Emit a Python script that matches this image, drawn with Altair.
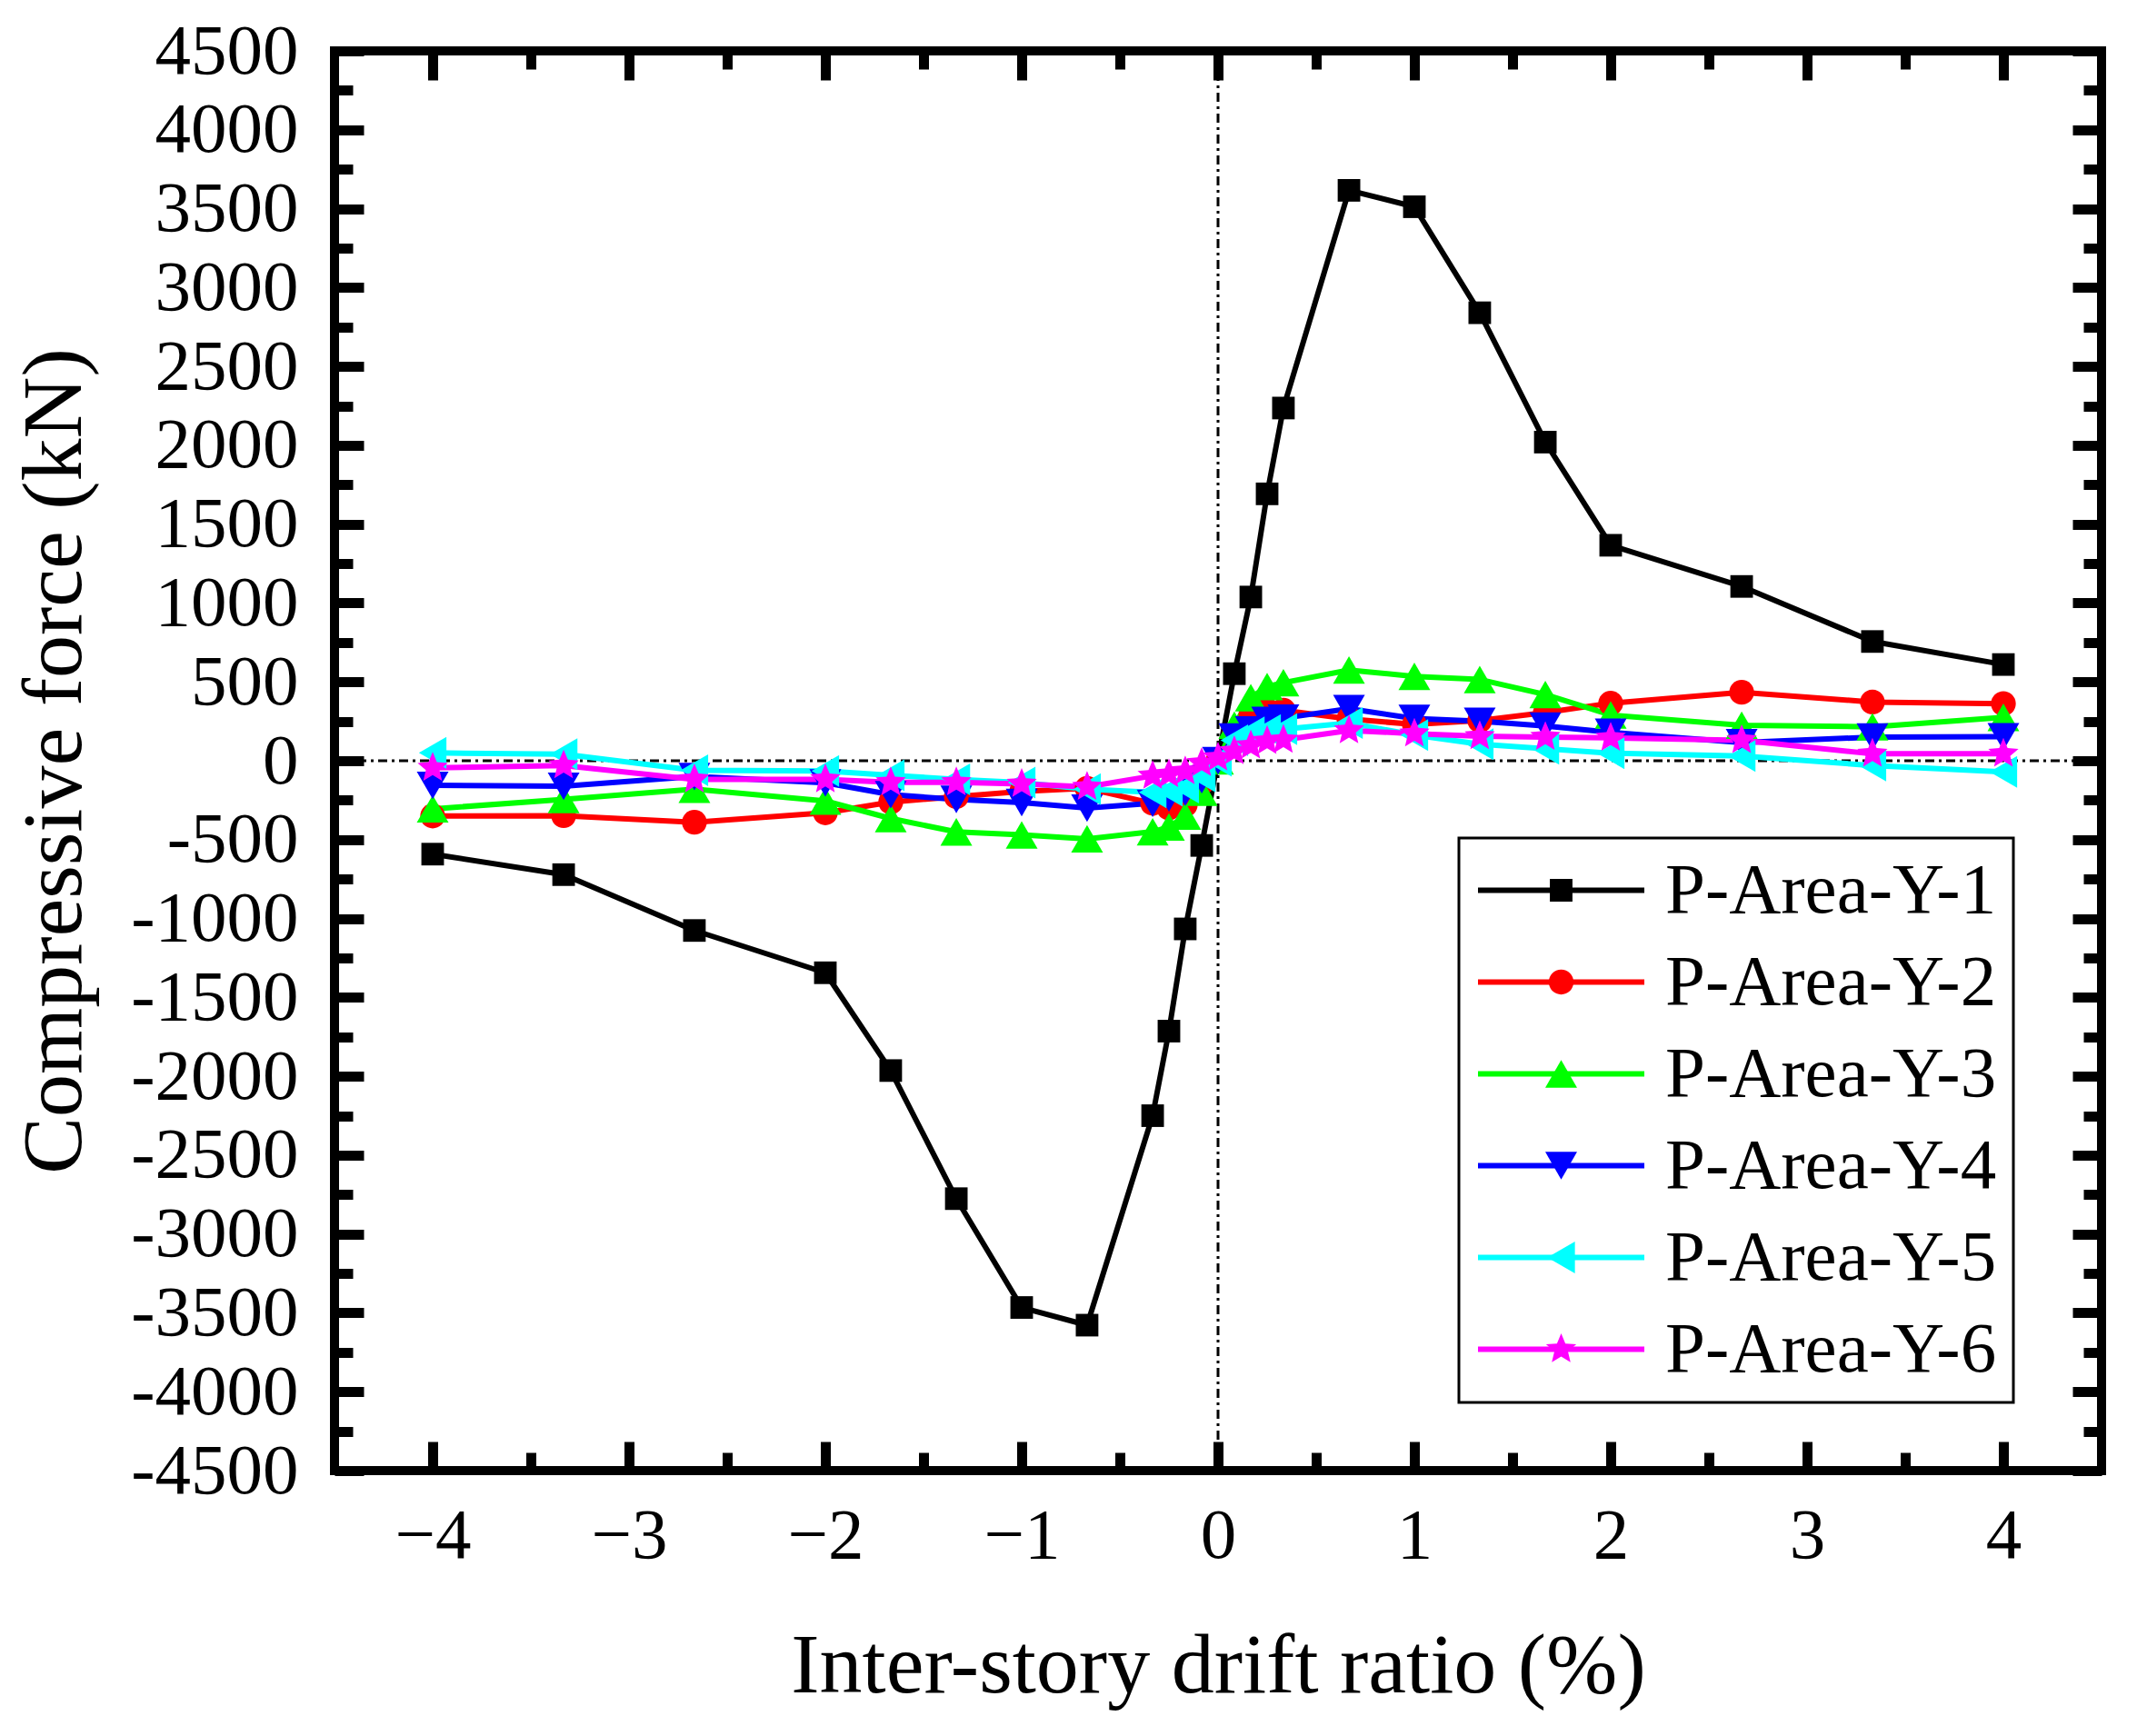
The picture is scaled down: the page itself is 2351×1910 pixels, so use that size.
import pandas as pd
import altair as alt

# drift ratio (%) at each load step
drift = [-4, -3.333, -2.667, -2, -1.667, -1.333, -1, -0.667, -0.333, -0.25, -0.167, -0.083, 0,
         0.083, 0.167, 0.25, 0.333, 0.667, 1, 1.333, 1.667, 2, 2.667, 3.333, 4]

# compressive force (kN)
y1 = [-592, -722, -1076, -1344, -1964, -2776, -3466, -3578, -2250, -1714, -1066, -537, None,
      552, 1038, 1692, 2236, 3616, 3512, 2840, 2020, 1366, 1105, 756, 610]
y2 = [-350, -348, -390, -330, -262, -228, -195, -175, -270, -300, -280, -140, 0,
      170, 290, 320, 320, 265, 230, 255, 305, 365, 434, 372, 362]
y3 = [-305, -245, -180, -255, -366, -451, -470, -495, -450, -420, -350, -200, 0,
      225, 400, 470, 495, 575, 535, 515, 420, 290, 225, 215, 275]
y4 = [-156, -162, -100, -140, -215, -245, -265, -300, -270, -235, -200, -120, 0,
      150, 195, 255, 270, 330, 268, 250, 220, 180, 115, 150, 152]
y5 = [50, 42, -60, -65, -92, -118, -138, -180, -200, -190, -170, -100, 0,
      130, 180, 195, 200, 239, 163, 105, 77, 48, 30, -30, -70]
y6 = [-45, -30, -118, -118, -137, -137, -147, -166, -96, -86, -67, -15, 20,
      60, 96, 125, 132, 192, 172, 155, 150, 145, 130, 44, 44]

names = ['P-Area-Y-1', 'P-Area-Y-2', 'P-Area-Y-3', 'P-Area-Y-4', 'P-Area-Y-5', 'P-Area-Y-6']
marks = ['m1', 'm2', 'm3', 'm4', 'm5', 'm6']
colors = ['#000000', '#FF0000', '#00FF00', '#0000FF', '#00FFFF', '#FF00FF']

x_major = [-4, -3, -2, -1, 0, 1, 2, 3, 4]
x_minor = [-3.5, -2.5, -1.5, -0.5, 0.5, 1.5, 2.5, 3.5]
y_major = list(range(-4500, 4501, 500))
y_minor = list(range(-4250, 4500, 500))
ref = [0]

# marker shapes (custom paths live in a -1..1 box)
square = 'M-0.71,-0.71H0.71V0.71H-0.71Z'
circle = 'M-0.78,0A0.78,0.78 0 1,0 0.78,0A0.78,0.78 0 1,0 -0.78,0Z'
star = ('M0,-1L0.265,-0.364L0.951,-0.309L0.428,0.139L0.588,0.809L0,0.45'
        'L-0.588,0.809L-0.428,0.139L-0.951,-0.309L-0.265,-0.364Z')
shapes = [square, circle, 'triangle-up', 'triangle-down', 'triangle-left', star]

#%% long table
rows = []
for name, mk, ys in zip(names, marks, [y1, y2, y3, y4, y5, y6]):
    for d, f in zip(drift, ys):
        if f is None:
            continue
        rows.append({'series': name, 'mk': mk, 'drift': d, 'force': f})
df = pd.DataFrame(rows)

FONT = 'Liberation Serif'
MAJ, MIN = 32, 20

xs = alt.Scale(domain=[-4.5, 4.5], nice=False, zero=False)
ys_ = alt.Scale(domain=[-4500, 4500], nice=False, zero=False)


def ticks(orient, values, size):
    return alt.Axis(orient=orient, values=values, offset=-size, tickSize=size,
                    labels=False, title=None)


ax_bottom = alt.Axis(orient='bottom', values=x_major, offset=-MAJ, tickSize=MAJ, format='d',
                     labelPadding=33, title='Inter-story drift ratio (%)', titlePadding=58)
ax_left = alt.Axis(orient='left', values=y_major, offset=-MAJ, tickSize=MAJ, format='d',
                   labelExpr="replace(datum.label, '\u2212', '-')",
                   labelPadding=40, title='Compressive force (kN)', titlePadding=92)

LEG_X, LEG_Y = 1237, 866
LINE_LEN, LW = 183, 6
line_legend = alt.Legend(title=None, orient='none', legendX=LEG_X, legendY=LEG_Y,
                         symbolType='stroke', symbolSize=LINE_LEN * LINE_LEN,
                         symbolStrokeWidth=LW, strokeColor='black')
# markers sit on top of the legend lines; labels left blank here
point_legend = alt.Legend(title=None, orient='none',
                          legendX=LEG_X + (LINE_LEN + LW - 79) / 2, legendY=LEG_Y,
                          symbolSize=1225, symbolStrokeWidth=0, labelExpr="''",
                          strokeColor='transparent')

base = alt.Chart(df)

rule_x = alt.Chart(pd.DataFrame({'v': ref})).mark_rule(
    color='black', strokeWidth=3, strokeDash=[10, 5, 3, 5]
).encode(x=alt.X('v:Q', scale=xs, axis=None))
rule_y = alt.Chart(pd.DataFrame({'v': ref})).mark_rule(
    color='black', strokeWidth=3, strokeDash=[10, 5, 3, 5]
).encode(y=alt.Y('v:Q', scale=ys_, axis=None))

lines = base.mark_line(strokeWidth=LW, strokeJoin='round', strokeCap='round').encode(
    x=alt.X('drift:Q', scale=xs, axis=ax_bottom),
    y=alt.Y('force:Q', scale=ys_, axis=ax_left),
    color=alt.Color('series:N', scale=alt.Scale(domain=names, range=colors), legend=line_legend),
)

points = base.mark_point(filled=True, size=1225, opacity=1, strokeWidth=0).encode(
    x=alt.X('drift:Q', scale=xs, axis=ticks('top', x_major, MAJ)),
    y=alt.Y('force:Q', scale=ys_, axis=ticks('right', y_major, MAJ)),
    fill=alt.Fill('mk:N', scale=alt.Scale(domain=marks, range=colors), legend=point_legend),
    shape=alt.Shape('mk:N', scale=alt.Scale(domain=marks, range=shapes), legend=point_legend),
)

minor_a = base.mark_point(opacity=0).encode(
    x=alt.X('drift:Q', scale=xs, axis=ticks('bottom', x_minor, MIN)),
    y=alt.Y('force:Q', scale=ys_, axis=ticks('left', y_minor, MIN)),
)
minor_b = base.mark_point(opacity=0).encode(
    x=alt.X('drift:Q', scale=xs, axis=ticks('top', x_minor, MIN)),
    y=alt.Y('force:Q', scale=ys_, axis=ticks('right', y_minor, MIN)),
)

chart = alt.layer(rule_x, rule_y, lines, points, minor_a, minor_b).resolve_axis(
    x='independent', y='independent'
).properties(
    width=1944, height=1562,
    autosize=alt.AutoSizeParams(type='none'),
    padding={'left': 360, 'top': 48, 'right': 31, 'bottom': 284},
).configure_view(
    stroke='black', strokeWidth=10
).configure_axis(
    domain=False, grid=False, tickColor='black', tickWidth=11,
    labelFont=FONT, labelFontSize=79, labelColor='black', labelLimit=400,
    labelOverlap=False, labelFlush=False,
    titleFont=FONT, titleFontSize=94, titleFontWeight='normal', titleColor='black',
).configure_legend(
    labelFont=FONT, labelFontSize=79, labelColor='black', labelLimit=600, labelOffset=20,
    padding=18, rowPadding=21, clipHeight=79, symbolOffset=0, strokeWidth=3,
)

chart.save('out.html', embed_options={'renderer': 'svg', 'actions': False})
